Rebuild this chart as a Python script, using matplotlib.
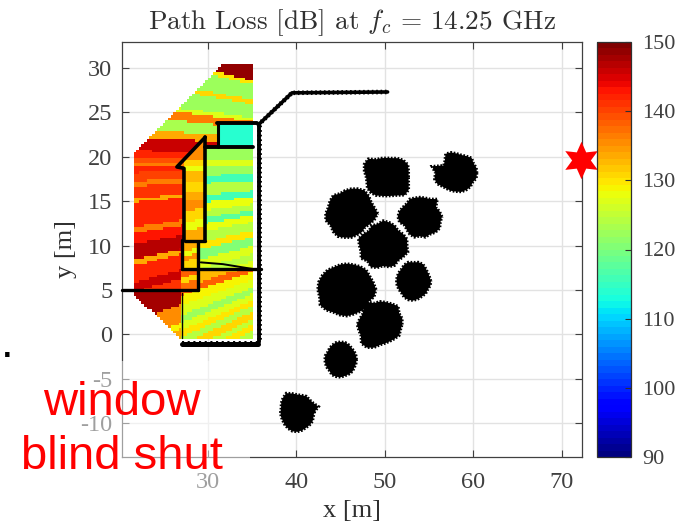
import numpy as np
import matplotlib
matplotlib.use("Agg")
from matplotlib import pyplot as plt
from matplotlib.patches import Rectangle

plt.rcParams['font.family'] = ['Liberation Serif', 'DejaVu Serif']
plt.rcParams['axes.unicode_minus'] = False
plt.rcParams['mathtext.fontset'] = 'cm'

TX_X = 72.2
TX_Y = 19.6
REF_X = 35.2

X_TICKS = [30, 40, 50, 60, 70]
Y_TICKS = [-10, -5, 0, 5, 10, 15, 20, 25, 30]
CB_TICKS = [90, 100, 110, 120, 130, 140, 150]

# stripes of each room: edges are the height of the stripe at x = REF_X,
# stripes run along rays from the transmitter
NORTH_EDGES = [19.0, 20.4, 21.5, 22.2, 23.2, 24.0, 24.4, 25.9, 26.4, 28.1, 28.5, 31.5]
NORTH_VALUES = [142, 146, 134, 123, 136, 127, 122, 131, 122, 130, 149]
ROOM_VALUE = 114
EAST_EDGES = [7.0, 8.3, 9.1, 10.0, 11.0, 11.7, 12.7, 13.4, 14.0, 14.7, 15.5, 16.2, 17.35, 18.1, 19.05, 19.6, 21.5]
EAST_VALUES = [127, 124, 127, 120, 130, 124, 128, 118, 124, 128, 116, 124, 116, 122, 127, 122]
CORRIDOR_EDGES = [11.5, 13.1, 13.9, 14.9, 15.8, 16.6, 17.6, 18.5, 19.0, 19.6, 23.0]
CORRIDOR_VALUES = [134, 128, 131, 135, 134, 131, 133, 128, 131, 135]
CLOSET_EDGES = [9.0, 10.2, 10.65, 11.15, 12.0]
CLOSET_VALUES = [131, 135, 128, 134]
LOBBY_EDGES = [7.0, 8.2, 8.7, 9.6]
LOBBY_VALUES = [137, 131, 138]
SOUTH_EDGES = [-1.0, 0.5, 1.2, 1.8, 2.6, 3.3, 3.9, 4.6, 5.3, 6.2, 7.1, 7.8, 9.3]
SOUTH_VALUES = [124, 130, 125, 131, 124, 130, 127, 122, 127, 129, 138, 133]
CORNER_EDGES = [2.5, 4.1, 4.6, 6.3, 9.5]
CORNER_VALUES = [134, 129, 135, 148]
WEST_EDGES = [8.0, 8.7, 9.5, 10.92, 11.38, 11.45, 12.7, 13.6, 14.1, 16.15, 16.45, 17.45, 17.9, 18.6, 19.1, 19.33, 19.8, 21.0]
WEST_VALUES = [141, 146, 142, 134, 146, 147, 143, 136, 142, 134, 141, 136, 140, 142, 136, 139, 146]

# walls, as corner points
WALL_X = [[35.8, 35.8], [27.1, 35.7], [35.7, 39.5, 50.3], [31.0, 35.5], [31.1, 31.1], [29.7, 35.1],
          [29.7, 29.7], [29.7, 26.5, 27.3, 27.3], [27.4, 29.7], [27.1, 27.1], [27.1, 36.0],
          [28.9, 28.9], [20.3, 28.9], [27.1, 27.1], [29.2, 31.7, 35.1]]
WALL_Y = [[23.6, -0.85], [-1.1, -1.1], [23.6, 27.2, 27.3], [23.8, 23.8], [23.8, 21.1], [21.1, 21.1],
          [22.2, 10.6], [22.2, 18.85, 18.7, 10.6], [10.5, 10.5], [10.6, 7.35], [7.35, 7.35],
          [10.4, 5.0], [5.0, 5.0], [4.6, -0.45], [8.1, 7.9, 7.35]]
WALL_WIDTH = [2.8, 3.6, 2.6, 2.8, 2.2, 2.8, 2.6, 2.6, 2.4, 2.4, 2.4, 2.4, 2.4, 1.0, 1.4]
# the first three walls look rough in the picture
ROUGH_WALLS = [0, 1, 2]

# tree crowns: centre and crown radius read every 15 degrees from east
TREE_X = [50.17, 58.1, 46.2, 53.95, 49.8, 53.2, 45.7, 49.45, 45.0, 40.1]
TREE_Y = [17.72, 18.17, 13.6, 13.25, 10.0, 6.0, 5.05, 1.1, -2.85, -8.8]
TREE_R = [
    [2.5, 2.6, 2.8, 2.7, 2.45, 2.2, 2.15, 2.2, 2.3, 2.9, 2.9, 2.6, 2.3, 2.3, 2.5, 2.5, 2.4, 2.2, 2.15, 2.2, 2.4, 2.9, 2.9, 2.6],
    [2.3, 2.3, 2.2, 2.4, 2.2, 2.1, 2.2, 2.4, 2.5, 1.9, 1.7, 2.9, 2.4, 2.6, 2.5, 2.2, 2.1, 2.1, 2.1, 2.2, 2.2, 2.2, 2.1, 2.3],
    [3.0, 2.7, 2.6, 2.8, 3.0, 2.9, 2.8, 2.7, 2.6, 2.9, 2.8, 2.7, 2.9, 3.0, 2.7, 2.9, 3.0, 2.8, 2.7, 2.5, 2.4, 2.2, 2.4, 2.7],
    [2.5, 2.3, 2.1, 2.8, 2.3, 2.2, 2.2, 2.2, 2.3, 2.1, 2.2, 2.4, 2.5, 2.4, 2.0, 2.1, 2.3, 2.4, 2.2, 2.4, 2.3, 2.5, 2.6, 2.4],
    [2.7, 2.8, 2.6, 2.4, 2.6, 2.7, 2.8, 2.5, 2.6, 2.3, 2.6, 2.9, 2.7, 2.6, 2.9, 2.5, 2.8, 2.6, 2.3, 2.5, 2.6, 2.4, 2.6, 2.9],
    [2.0, 1.9, 1.9, 2.0, 2.2, 2.2, 2.1, 2.2, 2.1, 1.9, 1.9, 1.9, 1.9, 1.9, 1.9, 1.9, 2.1, 2.2, 2.2, 2.1, 2.0, 2.0, 1.9, 2.0],
    [3.3, 3.1, 3.0, 3.1, 3.0, 2.9, 2.9, 2.9, 2.9, 3.1, 3.2, 3.3, 3.3, 3.2, 3.5, 3.3, 3.0, 3.0, 3.0, 2.9, 2.9, 3.0, 2.8, 3.2],
    [2.5, 2.6, 2.5, 2.9, 2.7, 2.6, 2.6, 2.5, 2.9, 2.6, 2.3, 2.4, 2.6, 2.5, 2.5, 3.0, 3.0, 2.7, 2.3, 2.2, 2.2, 2.3, 2.5, 2.4],
    [1.8, 1.8, 1.8, 1.8, 1.9, 2.0, 2.0, 2.0, 1.9, 1.8, 1.7, 1.8, 1.8, 1.8, 1.8, 1.8, 2.0, 2.0, 2.0, 1.9, 1.9, 1.9, 1.8, 1.8],
    [1.9, 2.5, 2.1, 2.0, 2.1, 2.0, 2.0, 2.2, 2.5, 2.3, 2.1, 1.9, 1.9, 1.9, 1.9, 2.0, 2.1, 2.2, 2.2, 2.1, 2.0, 2.0, 2.0, 1.9],
]


def stripes(ray, edges, values):
    idx = np.clip(np.searchsorted(edges, ray) - 1, 0, len(values) - 1)
    return np.asarray(values, dtype=float)[idx]


# coverage map
xe = np.arange(21.6, 35.4, 0.3)
ye = np.arange(-0.5, 30.5, 0.3)
xc, yc = np.meshgrid((xe[:-1] + xe[1:]) / 2, (ye[:-1] + ye[1:]) / 2)
ray = TX_Y + (yc - TX_Y) * (TX_X - REF_X) / (TX_X - xc)

diag = 18.85 + (xc - 26.5) * 3.35 / 3.2
in_room = (xc > 31.1) & (yc > 21.1) & (yc < 23.8)
in_corridor = (xc > 27.3) & (xc < 29.7) & (yc > 10.5) & (yc < diag)
in_east = (yc > 7.35) & (yc < 21.1) & ((xc > 29.7) | ((xc > 28.9) & (yc < 10.5)))
in_closet = (xc > 27.1) & (xc < 28.9) & (yc > 7.35) & (yc < 10.5)
in_lobby = (xc > 27.1) & (xc < 28.9) & (yc > 5) & (yc < 7.35)
in_south = ((yc < 7.35) & (xc > 28.9)) | ((yc < 5) & (xc > 27.1))
in_corner = (xc < 27.1) & (yc < 5)
in_west = (xc < 27.3) & (yc >= 5) & (yc < 20)

loss = np.select(
    [in_room, in_corridor, in_east, in_closet, in_lobby, in_south, in_corner, in_west],
    [np.full(xc.shape, float(ROOM_VALUE)),
     stripes(ray, CORRIDOR_EDGES, CORRIDOR_VALUES),
     stripes(ray, EAST_EDGES, EAST_VALUES),
     stripes(ray, CLOSET_EDGES, CLOSET_VALUES),
     stripes(ray, LOBBY_EDGES, LOBBY_VALUES),
     stripes(ray, SOUTH_EDGES, SOUTH_VALUES),
     stripes(ray, CORNER_EDGES, CORNER_VALUES),
     stripes(ray, WEST_EDGES, WEST_VALUES)],
    default=stripes(ray, NORTH_EDGES, NORTH_VALUES))
outside = (yc > xc - 21.6 + 20.3) | (yc > 30.3) | (yc < 4.5 - (xc - 21.6) * 0.945)
loss[outside] = np.nan

W, H = 685.0, 526.0
fig = plt.figure(figsize=(6.85, 5.26), dpi=100)
ax = fig.add_axes([122 / W, 1 - 457 / H, 460 / W, 415 / H])
cmap = plt.get_cmap('jet', 64)
mesh = ax.pcolormesh(xe, ye, np.ma.masked_invalid(loss), cmap=cmap, vmin=90, vmax=150, zorder=2)

for i, (wx, wy, lw) in enumerate(zip(WALL_X, WALL_Y, WALL_WIDTH)):
    ax.plot(wx, wy, color='black', lw=lw, solid_capstyle='round', zorder=3, clip_on=False)
    if i in ROUGH_WALLS:
        ax.plot(wx, wy, color='black', lw=lw + 0.7, ls=(0, (0.35, 0.6)), zorder=3)

angles = np.deg2rad(np.arange(0, 360, 15))
for tx, ty, r in zip(TREE_X, TREE_Y, TREE_R):
    ax.fill(tx + np.array(r) * np.cos(angles), ty + np.array(r) * np.sin(angles),
            facecolor='black', edgecolor='black', lw=2.0, ls=(0, (0.6, 0.6)), zorder=3)

ax.plot([TX_X], [TX_Y], marker=(6, 1, 0), ms=27, color='red', mew=0, ls='none', clip_on=False, zorder=5)

ax.set_xlim(20.3, 72.26)
ax.set_ylim(-13.83, 32.93)
ax.set_xticks(X_TICKS)
ax.set_yticks(Y_TICKS)
ax.grid(True, color='#e2e2e2', lw=1)
ax.set_axisbelow(True)
ax.tick_params(direction='in', length=5, width=0.8, color='#404040', labelcolor='#404040',
               labelsize=17.5, top=True, right=True, pad=7)
ax.tick_params(axis='x', pad=11)
for s in ax.spines.values():
    s.set_color('#404040')
    s.set_linewidth(0.9)
ax.set_xlabel('x [m]', fontsize=19, color='#303030', labelpad=5)
ax.set_ylabel('y [m]', fontsize=19, color='#303030', labelpad=2)
ax.set_title(r'Path Loss [dB] at $f_c$ = 14.25 GHz', fontsize=19.6, family='cmr10', color='#303030', pad=9)

cax = fig.add_axes([597 / W, 1 - 457 / H, 34 / W, 415 / H])
cb = fig.colorbar(mesh, cax=cax)
cb.set_ticks(CB_TICKS)
cb.ax.tick_params(direction='in', length=4, width=0.8, color='#303030', labelcolor='#404040', labelsize=16, pad=8)
cb.outline.set_edgecolor('#303030')
cb.outline.set_linewidth(0.9)

# pasted text box washes out what lies under it
fig.add_artist(Rectangle((0, 1 - 500 / H), 250 / W, 139 / H, transform=fig.transFigure,
                         facecolor='white', edgecolor='none', alpha=0.5, zorder=4))
fig.text(122 / W, 1 - 430 / H, 'window\nblind shut', color='red', fontsize=34, family='Liberation Sans',
         ha='center', va='center', linespacing=1.27, zorder=5)
fig.text(7 / W, 1 - 357 / H, '.', color='black', fontsize=22, family='Liberation Sans', weight='bold',
         ha='center', va='baseline')

fig.savefig('out.png', dpi=100)
